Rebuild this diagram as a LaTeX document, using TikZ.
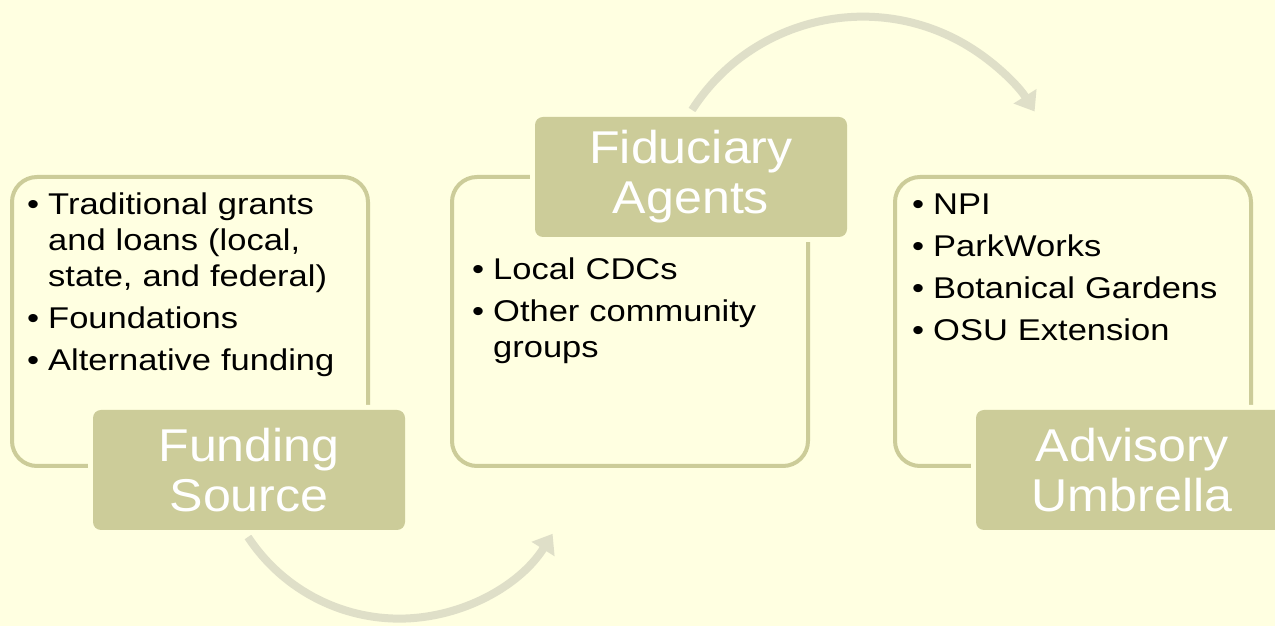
\documentclass[tikz,border=0pt]{standalone}
\usepackage{fontspec}
\setmainfont{Liberation Sans}
\newfontfamily\listfont[FakeStretch=1.15]{Liberation Sans}
\newfontfamily\titlefont[FakeStretch=1.09]{Liberation Sans}
\usepackage{xcolor}
\usepackage{tikz}
\usetikzlibrary{arrows.meta}

\definecolor{paper}{HTML}{FFFFE1}
\definecolor{sage}{HTML}{CCCC99}
\definecolor{cyclegray}{HTML}{DFDFC8}

% one bullet line with hanging indent
\newcommand{\bitem}[1]{\hangindent=21pt\hangafter=1\noindent\makebox[21pt][l]{•}#1\par\vspace{6pt}}

\begin{document}
\begin{tikzpicture}[x=1pt, y=1pt,
    outline/.style={draw=sage, line width=4pt, rounded corners=25pt, minimum width=356pt, minimum height=289pt},
    titlebox/.style={fill=sage, rounded corners=8pt, preaction={draw=paper, line width=10pt},
        minimum width=312pt, minimum height=120pt, text=white, align=center,
        font=\titlefont\fontsize{46}{50}\selectfont},
    listtext/.style={anchor=base west, inner sep=0pt, text width=340pt, align=left,
        font=\listfont\fontsize{30}{36}\selectfont},
    cyclearrow/.style={draw=cyclegray, line width=8pt, -{Triangle[length=18pt, width=26pt]}}]

        \fill[paper] (0,0) rectangle (1275,626);
        \useasboundingbox (0,0) rectangle (1275,626);

        % arrows between the stages
        \coordinate (fundout) at (248,89);
        \draw[cyclearrow] (fundout) arc[start angle=213.3, end angle=327.9, radius=181];
        \coordinate (fidout) at (692,516);
        \draw[cyclearrow] (fidout) arc[start angle=147.3, end angle=32.2, radius=203];

        % Funding
        \node[outline] (fundbox) at (190,304.5) {};
        \node[titlebox] (fundtitle) at (249,156) {Funding\\Source};
        \node[listtext] (fundlist) at (27,411) {%
            \bitem{Traditional grants\newline and loans (local,\newline state, and federal)}
            \bitem{Foundations}
            \bitem{Alternative funding}};

        % Fiduciary
        \node[outline] (fidbox) at (630,304.5) {};
        \node[titlebox] (fidtitle) at (691,449) {Fiduciary\\Agents};
        \node[listtext] (fidlist) at (472,346) {%
            \bitem{Local CDCs}
            \bitem{Other community\newline groups}};

        % Advisory
        \node[outline] (advbox) at (1073,304.5) {};
        \node[titlebox] (advtitle) at (1132,156) {Advisory\\Umbrella};
        \node[listtext] (advlist) at (912,411) {%
            \bitem{NPI}
            \bitem{ParkWorks}
            \bitem{Botanical Gardens}
            \bitem{OSU Extension}};
    \end{tikzpicture}
\end{document}
